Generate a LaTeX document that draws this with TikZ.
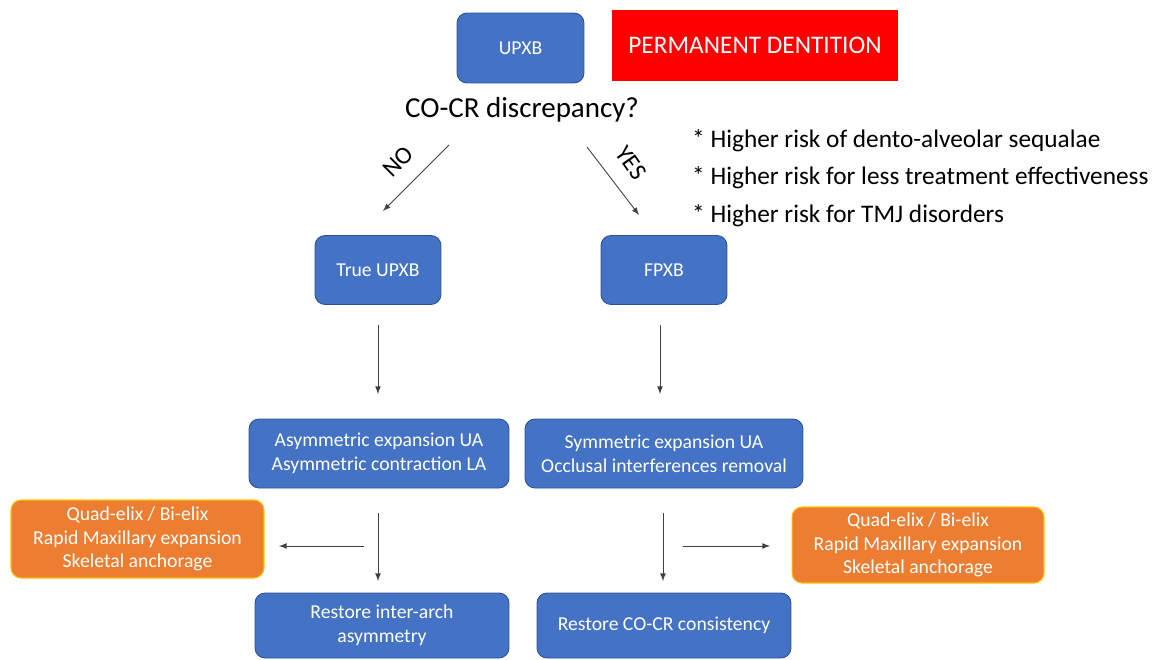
\documentclass[tikz,border=0pt]{standalone}
\usepackage{fontspec}
\setmainfont{Carlito}
\usepackage{xcolor}
\usetikzlibrary{shapes.geometric, arrows, positioning, calc}
\definecolor{boxblue}{HTML}{4472C4}
\definecolor{boxline}{HTML}{2F528F}
\definecolor{boxorange}{HTML}{ED7D31}
\definecolor{boxgold}{HTML}{FFC000}

\begin{document}
\begin{tikzpicture}[x=0.02cm, y=-0.02cm,
    bluebox/.style={rectangle, rounded corners=0.2cm, fill=boxblue, draw=boxline, line width=0.5pt,
        text=white, align=center, font=\fontsize{11.2}{13.6}\selectfont, minimum height=1.38cm},
    orangebox/.style={rectangle, rounded corners=0.2cm, fill=boxorange, draw=boxgold, line width=0.6pt,
        text=white, align=center, font=\fontsize{11.2}{13.2}\selectfont},
    flow/.style={-latex, black!75, line width=0.5pt}]
\useasboundingbox (0,0) rectangle (1152,659);

% Top: start box and title
\node[bluebox, minimum width=2.54cm, minimum height=1.4cm] (upxb) at (520.5,48) {UPXB};
\node[rectangle, fill=red, text=white, minimum width=5.72cm, minimum height=1.42cm,
    font=\fontsize{14.4}{17}\selectfont] (perm) at (755,45.5) {PERMANENT DENTITION};
\node[font=\fontsize{16.5}{20}\selectfont] (question) at (522,110) {CO-CR discrepancy?};

% Risks of the YES branch
\node[anchor=west, align=left, font=\fontsize{14.4}{21.3}\selectfont] (risks) at (686,178) {%
    * Higher risk of dento-alveolar sequalae\\
    * Higher risk for less treatment effectiveness\\
    * Higher risk for TMJ disorders};

% Diagnosis
\node[bluebox, minimum width=2.52cm, minimum height=1.38cm] (true) at (378,270) {True UPXB};
\node[bluebox, minimum width=2.52cm, minimum height=1.38cm] (fpxb) at (664,270) {FPXB};

% Treatment
\node[bluebox, minimum width=5.2cm] (asym) at (379,453.5) {Asymmetric expansion UA\\Asymmetric contraction LA};
\node[bluebox, minimum width=5.56cm] (sym) at (664,453.5) {Symmetric expansion UA\\Occlusal interferences removal};

% Appliances
\node[orangebox, minimum width=5.06cm, minimum height=1.56cm] (quadl) at (137.5,539)
    {Quad-elix / Bi-elix\\Rapid Maxillary expansion\\Skeletal anchorage};
\node[orangebox, minimum width=5.04cm, minimum height=1.52cm] (quadr) at (918,545)
    {Quad-elix / Bi-elix\\Rapid Maxillary expansion\\Skeletal anchorage};

% Goals
\node[bluebox, minimum width=5.08cm, minimum height=1.3cm] (restl) at (382,625.5) {Restore inter-arch\\asymmetry};
\node[bluebox, minimum width=5.08cm, minimum height=1.3cm] (restr) at (664,625.5) {Restore CO-CR consistency};

% Arrow ends
\coordinate (no0) at (449,145);   \coordinate (no1) at (383,211);
\coordinate (yes0) at (587,147);  \coordinate (yes1) at (639,215);
\coordinate (l0) at (378,325);    \coordinate (l1) at (378,394);
\coordinate (r0) at (660,325);    \coordinate (r1) at (660,394);
\coordinate (l2) at (378,513);    \coordinate (l3) at (378,581);
\coordinate (r2) at (663,513);    \coordinate (r3) at (663,581);
\coordinate (lh0) at (364,546);   \coordinate (lh1) at (279,546);
\coordinate (rh0) at (683,546);   \coordinate (rh1) at (770,546);

\draw[flow] (no0) -- (no1);
\draw[flow] (yes0) -- (yes1);
\node[rotate=45, font=\fontsize{14}{16}\selectfont, inner sep=1pt] (no) at (398,162) {NO};
\node[rotate=-55, font=\fontsize{14}{16}\selectfont, inner sep=1pt] (yes) at (631,163) {YES};

\draw[flow] (l0) -- (l1);
\draw[flow] (r0) -- (r1);
\draw[flow] (l2) -- (l3);
\draw[flow] (r2) -- (r3);
\draw[flow] (lh0) -- (lh1);
\draw[flow] (rh0) -- (rh1);
\end{tikzpicture}
\end{document}
